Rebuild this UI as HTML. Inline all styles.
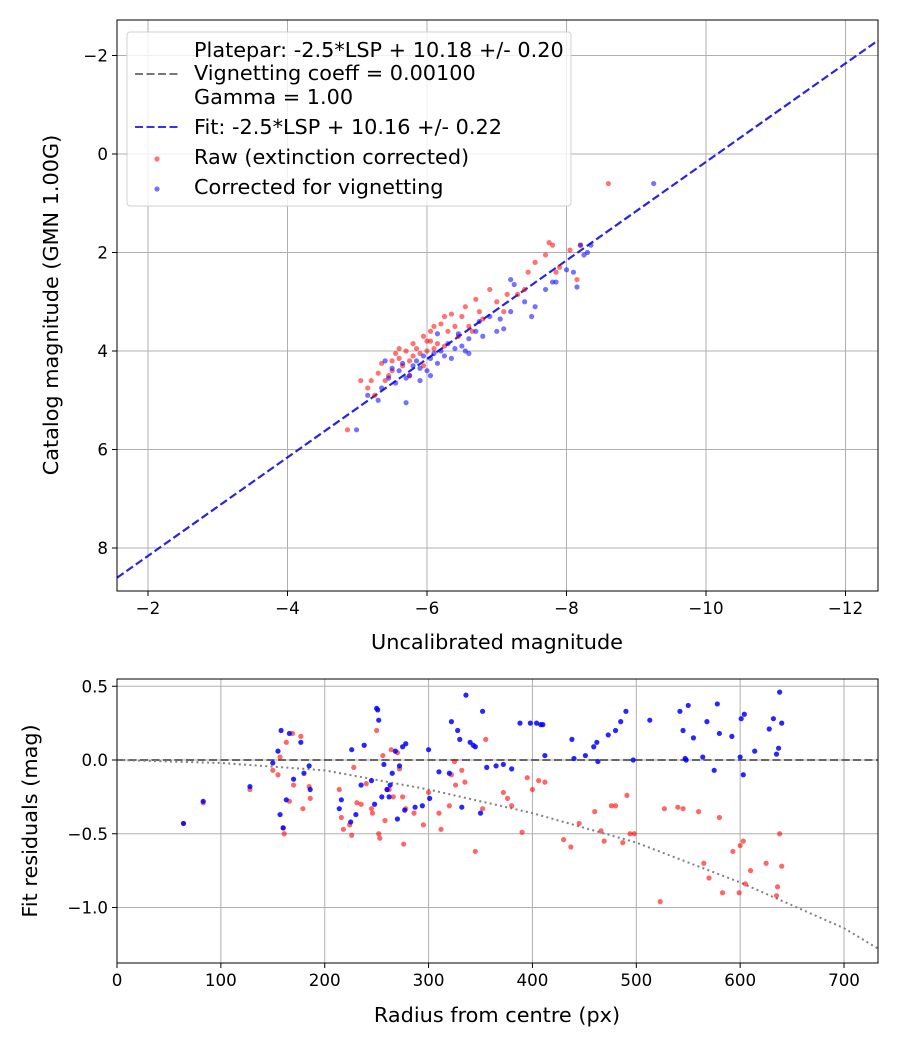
<!DOCTYPE html>
<html><head><meta charset="utf-8"><style>
body{margin:0;background:#fff;}
svg{font-family:"DejaVu Sans","Liberation Sans",sans-serif;}
</style></head><body>
<svg id="fig" width="900" height="1050" xmlns="http://www.w3.org/2000/svg">
<rect width="900" height="1050" fill="#fff"/>
<g id="topPlot"></g>
<g id="botPlot"></g>
</svg>
<script>
// ---- top chart data ----
const topXTicks=[-2,-4,-6,-8,-10,-12];
const topYTicks=[-2,0,2,4,6,8];
const fitIntercept=10.16;
const rawX=[-4.86,-5.05,-5.15,-5.2,-5.3,-5.35,-5.4,-5.45,-5.5,-5.5,-5.55,-5.6,-5.65,-5.7,-5.75,-5.8,-5.8,-5.85,-5.9,-5.95,-6.0,-6.0,-6.05,-6.1,-6.15,-6.2,-6.25,-6.3,-6.35,-6.4,-6.45,-6.5,-6.55,-6.6,-6.65,-6.7,-6.75,-6.8,-6.9,-7.0,-7.1,-7.15,-7.3,-7.4,-7.45,-7.55,-7.7,-7.75,-7.8,-7.85,-7.9,-8.05,-8.15,-8.2,-8.6,-5.25,-5.6,-6.1,-5.95,-6.25,-6.05,-5.75];
const rawY=[5.6,4.6,4.75,4.6,4.45,4.25,4.6,4.5,4.4,4.2,4.05,4.15,4.3,4.0,4.2,4.1,3.85,3.95,4.05,3.7,3.8,4.0,3.6,3.5,3.85,3.45,3.9,3.6,3.25,3.5,3.7,3.3,3.1,3.5,3.6,2.95,3.2,3.35,2.75,3.0,3.2,2.85,2.85,2.75,2.4,2.2,2.05,1.8,1.85,2.4,2.3,1.95,2.55,1.85,0.6,4.9,3.95,3.95,4.3,3.3,3.8,4.5];
const corX=[-4.99,-5.15,-5.3,-5.35,-5.45,-5.5,-5.55,-5.6,-5.65,-5.7,-5.75,-5.8,-5.85,-5.9,-5.95,-6.0,-6.05,-6.1,-6.15,-6.2,-6.25,-6.3,-6.35,-6.4,-6.45,-6.5,-6.55,-6.6,-6.7,-6.75,-6.8,-6.9,-7.0,-7.05,-7.1,-7.2,-7.4,-7.5,-7.55,-7.7,-7.8,-7.85,-8.0,-8.1,-8.2,-8.25,-8.3,-8.15,-8.35,-7.25,-7.2,-9.25,-5.7,-6.05,-5.9,-5.4,-6.6,-6.15];
const corY=[5.6,4.9,5.0,4.75,4.55,4.35,4.65,4.4,4.25,4.55,4.5,4.3,4.2,4.35,4.1,4.4,4.15,4.05,4.25,4.0,4.1,3.85,4.15,3.95,3.65,3.9,4.0,3.75,3.6,3.4,3.7,3.3,3.6,3.35,3.55,3.2,3.0,3.3,3.1,2.75,2.6,2.6,2.35,2.4,1.85,2.05,2.0,2.7,1.85,2.65,2.55,0.6,5.05,4.5,4.6,4.2,4.05,3.65];
// ---- bottom chart data ----
const botXTicks=[0,100,200,300,400,500,600,700];
const botYTicks=[0.5,0.0,-0.5,-1.0];
const redR=[64,83,128,150,155,157,160,161,163,166,169,170,177,179,185,186,214,216,218,224,226,228,231,235,240,245,246,250,252,253,256,258,260,262,264,266,270,272,275,276,278,286,295,300,310,312,320,322,325,326,332,335,345,352,355,372,376,380,390,395,400,406,412,430,437,445,460,466,469,476,480,487,491,494,498,523,527,540,545,560,565,570,580,583,593,599,603,600,605,610,625,635,638,640,636];
const redRes=[-0.43,-0.29,-0.2,-0.07,-0.1,0.02,-0.46,-0.5,0.12,-0.28,0.18,-0.17,0.16,-0.33,-0.18,-0.26,-0.2,-0.39,-0.47,-0.44,-0.51,-0.05,-0.29,-0.3,-0.16,-0.33,-0.36,0.2,-0.5,-0.53,0.03,-0.41,-0.2,-0.2,0.07,-0.25,0.05,-0.06,-0.25,-0.57,-0.33,-0.36,-0.44,-0.22,-0.36,-0.47,-0.31,-0.1,-0.01,-0.17,-0.07,-0.15,-0.62,-0.33,0.14,-0.22,-0.26,-0.31,-0.49,-0.12,-0.2,-0.14,-0.15,-0.54,-0.59,-0.43,-0.35,-0.48,-0.55,-0.31,-0.31,-0.56,-0.24,-0.5,-0.5,-0.96,-0.33,-0.32,-0.33,-0.35,-0.7,-0.8,-0.39,-0.9,-0.62,-0.9,-0.55,-0.58,-0.84,-0.75,-0.7,-0.92,-0.5,-0.72,-0.86];
const blueR=[64,83,128,150,155,157,160,158,163,166,170,177,180,185,186,214,216,225,226,230,235,238,245,248,250,251,252,255,257,260,262,263,265,268,270,272,277,275,278,287,294,300,301,310,320,322,328,330,332,336,340,343,345,350,352,356,365,372,380,388,398,404,408,410,412,438,440,451,459,462,463,473,480,485,490,497,513,542,545,547,550,555,564,568,578,580,592,600,601,603,604,614,628,632,637,638,640,635,548,575];
const blueRes=[-0.43,-0.28,-0.18,-0.02,0.06,-0.37,-0.46,0.2,-0.27,0.18,-0.13,0.12,-0.09,-0.04,-0.2,-0.33,-0.27,-0.42,0.07,-0.37,-0.17,0.1,-0.14,-0.3,0.35,0.34,0.27,-0.25,-0.03,-0.2,-0.25,-0.17,-0.09,0.06,-0.4,-0.04,-0.34,0.09,0.11,-0.32,-0.31,0.07,-0.26,-0.08,-0.09,0.26,0.2,0.14,-0.32,0.44,0.12,0.1,0.09,-0.36,0.33,-0.05,-0.04,-0.03,-0.06,0.25,0.25,0.25,0.24,0.24,0.03,0.14,0.01,0.03,0.09,0.12,-0.01,0.17,0.2,0.26,0.33,0,0.27,0.33,0.2,0.01,0.37,0.15,0.02,0.26,0.38,0.18,0.16,0.02,0.28,-0.1,0.31,0.06,0.21,0.28,0.08,0.46,0.25,0.04,0.0,-0.07];
const vigR=[0,100,200,300,400,500,600,700,733];
const vigRes=[0,-0.02,-0.07,-0.2,-0.36,-0.56,-0.83,-1.14,-1.28];

const NS="http://www.w3.org/2000/svg";
const FS=16.7;
const LFS=20.8;
function mk(parent,tag,attrs,text){const e=document.createElementNS(NS,tag);for(const k in attrs)e.setAttribute(k,attrs[k]);if(text!==undefined)e.textContent=text;parent.appendChild(e);return e;}
function minusStr(v){return String(v).replace('-','\u2212');}

// ---- top axes ----
const T={l:117,r:878,t:20,b:591};
const tx=v=>148+(-2-v)*69.75;
const ty=v=>154+v*49.25;
const topG=document.getElementById('topPlot');
const tg=mk(topG,'g',{});


topXTicks.forEach(v=>{const x=tx(v);mk(tg,'line',{x1:x,x2:x,y1:T.t,y2:T.b,stroke:'#b0b0b0','stroke-width':1});
 mk(topG,'line',{x1:x,x2:x,y1:T.b,y2:T.b+5,stroke:'#000'});
 const t=mk(topG,'text',{x:x,y:T.b+23,'text-anchor':'middle','font-size':FS},minusStr(v));
 
 });
topYTicks.forEach(v=>{const y=ty(v);mk(tg,'line',{x1:T.l,x2:T.r,y1:y,y2:y,stroke:'#b0b0b0','stroke-width':1});
 mk(topG,'line',{x1:T.l-5,x2:T.l,y1:y,y2:y,stroke:'#000'});
 const t=mk(topG,'text',{x:T.l-9,y:y+6,'text-anchor':'end','font-size':FS},minusStr(v));
 
 });
const xl=[-1.556,-12.47];
const fit=mk(topG,'line',{x1:tx(xl[0]),y1:ty(xl[0]+fitIntercept),x2:tx(xl[1]),y2:ty(xl[1]+fitIntercept),stroke:'#0000dd','stroke-opacity':0.85,'stroke-width':2.2,'stroke-dasharray':'8,3.5'});


rawX.forEach((v,i)=>{const c=mk(topG,'circle',{cx:tx(v),cy:ty(rawY[i]),r:2.6,fill:'#ff0000','fill-opacity':0.55});
 
 });
corX.forEach((v,i)=>{const c=mk(topG,'circle',{cx:tx(v),cy:ty(corY[i]),r:2.6,fill:'#0000ff','fill-opacity':0.55});
 
 });
mk(topG,'rect',{x:T.l,y:T.t,width:T.r-T.l,height:T.b-T.t,fill:'none',stroke:'#000','stroke-width':1});
const xlab=mk(topG,'text',{x:497,y:649,'text-anchor':'middle','font-size':LFS},'Uncalibrated magnitude');


const ylab=mk(topG,'text',{x:0,y:0,'text-anchor':'middle','font-size':LFS,transform:'translate(58,305) rotate(-90)'},'Catalog magnitude (GMN 1.00G)');


// legend
const lg=mk(topG,'g',{});


mk(lg,'rect',{x:127,y:32,width:444,height:174,rx:3,fill:'#fff','fill-opacity':0.8,stroke:'#d0d0d0'});
mk(lg,'line',{x1:135,x2:180,y1:74,y2:74,stroke:'#777','stroke-width':2,'stroke-dasharray':'8,3.5'});
mk(lg,'text',{x:194,y:57,'font-size':LFS},'Platepar: -2.5*LSP + 10.18 +/- 0.20');
mk(lg,'text',{x:194,y:80,'font-size':LFS},'Vignetting coeff = 0.00100');
mk(lg,'text',{x:194,y:104,'font-size':LFS},'Gamma = 1.00');
mk(lg,'line',{x1:135,x2:180,y1:127,y2:127,stroke:'#0000ee','stroke-opacity':0.8,'stroke-width':2,'stroke-dasharray':'8,3.5'});
mk(lg,'text',{x:194,y:134,'font-size':LFS},'Fit: -2.5*LSP + 10.16 +/- 0.22');
mk(lg,'circle',{cx:157,cy:159,r:2.6,fill:'#ff0000','fill-opacity':0.55});
mk(lg,'text',{x:194,y:164,'font-size':LFS},'Raw (extinction corrected)');
mk(lg,'circle',{cx:157,cy:189,r:2.6,fill:'#0000ff','fill-opacity':0.55});
mk(lg,'text',{x:194,y:194,'font-size':LFS},'Corrected for vignetting');

// ---- bottom axes ----
const B={l:117,r:878,t:679,b:963};
const bx=v=>117+v*1.0386;
const by=v=>760-v*147.5;
const botG=document.getElementById('botPlot');
const bg=mk(botG,'g',{});


botXTicks.forEach(v=>{const x=bx(v);mk(bg,'line',{x1:x,x2:x,y1:B.t,y2:B.b,stroke:'#b0b0b0'});
 mk(botG,'line',{x1:x,x2:x,y1:B.b,y2:B.b+5,stroke:'#000'});
 const t=mk(botG,'text',{x:x,y:B.b+23,'text-anchor':'middle','font-size':FS},String(v));
 
 });
botYTicks.forEach(v=>{const y=by(v);mk(bg,'line',{x1:B.l,x2:B.r,y1:y,y2:y,stroke:'#b0b0b0'});
 mk(botG,'line',{x1:B.l-5,x2:B.l,y1:y,y2:y,stroke:'#000'});
 const t=mk(botG,'text',{x:B.l-9,y:y+6,'text-anchor':'end','font-size':FS},minusStr(v.toFixed(1)));
 
 });
const zl=mk(botG,'line',{x1:B.l,x2:B.r,y1:by(0),y2:by(0),stroke:'#555','stroke-width':2,'stroke-dasharray':'8,3.5','stroke-opacity':0.85});


const vp=mk(botG,'polyline',{points:vigR.map((r,i)=>bx(r)+','+by(vigRes[i])).join(' '),fill:'none',stroke:'#808080','stroke-width':2,'stroke-dasharray':'2,3.3'});


redR.forEach((v,i)=>{const c=mk(botG,'circle',{cx:bx(v),cy:by(redRes[i]),r:2.6,fill:'#ff0000','fill-opacity':0.6});
 
 });
blueR.forEach((v,i)=>{const c=mk(botG,'circle',{cx:bx(v),cy:by(blueRes[i]),r:2.6,fill:'#0000ff','fill-opacity':0.85});
 
 });
mk(botG,'rect',{x:B.l,y:B.t,width:B.r-B.l,height:B.b-B.t,fill:'none',stroke:'#000'});
const bxl=mk(botG,'text',{x:497,y:1022,'text-anchor':'middle','font-size':LFS},'Radius from centre (px)');


const byl=mk(botG,'text',{x:0,y:0,'text-anchor':'middle','font-size':LFS,transform:'translate(37,821) rotate(-90)'},'Fit residuals (mag)');


</script>
</body></html>
